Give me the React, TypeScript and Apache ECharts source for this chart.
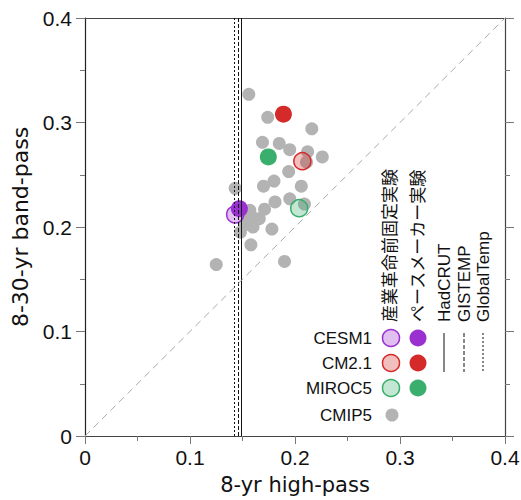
import React, { useEffect, useRef } from "react";
import * as echarts from "echarts";

// ---- data ----
const cmip5Points: [number, number][] = [
  [0.156, 0.327], [0.174, 0.305], [0.216, 0.294], [0.169, 0.281], [0.185, 0.28],
  [0.195, 0.274], [0.212, 0.272], [0.226, 0.267], [0.211, 0.262], [0.194, 0.253],
  [0.17, 0.239], [0.18, 0.244], [0.206, 0.239], [0.143, 0.237], [0.181, 0.224],
  [0.195, 0.227], [0.209, 0.222], [0.157, 0.216], [0.171, 0.217], [0.16, 0.209],
  [0.166, 0.208], [0.152, 0.202], [0.16, 0.2], [0.148, 0.195], [0.178, 0.198],
  [0.158, 0.183], [0.125, 0.164], [0.19, 0.167], [0.154, 0.213],
];
const modelNames = ["CESM1", "CM2.1", "MIROC5"];
const modelColors = ["#9b30d0", "#d42a2a", "#3aae6c"];
const modelLight = ["rgba(155,48,208,0.3)", "rgba(212,42,42,0.3)", "rgba(58,174,108,0.3)"];
const controlPoints: [number, number][] = [[0.143, 0.212], [0.207, 0.263], [0.204, 0.218]];
const pacemakerPoints: [number, number][] = [[0.147, 0.2175], [0.189, 0.308], [0.1746, 0.267]];
const obsNames = ["HadCRUT", "GISTEMP", "GlobalTemp"];
const obsValues = [0.1486, 0.1457, 0.1424];
const obsDash: any[] = ["solid", [4, 2], [2, 2]];
const axisTicks = [0, 0.1, 0.2, 0.3, 0.4];
const legendHeaders = ["産業革命前固定実験", "ペースメーカー実験"];
const cmip5Label = "CMIP5";

const FONT = "'Liberation Sans', 'Noto Sans CJK JP', sans-serif";
const TITLE_FONT = "'DejaVu Sans', sans-serif";

export default function App() {
  const ref = useRef<HTMLDivElement>(null);
  useEffect(() => {
    if (!ref.current) return;
    const chart = echarts.init(ref.current, undefined, { renderer: "svg" });
    const tickFmt = (v: number) => (v === 0 ? "0" : v.toFixed(1));
    const axisMin = axisTicks[0];
    const axisMax = axisTicks[axisTicks.length - 1];
    const axisLineStyle = { color: "#444", width: 1.2 };
    const tickStyle = { color: "#777", width: 1 };

    const graphics: any[] = [];
    const rowY = [338, 363, 388];
    modelNames.forEach((n, i) => {
      graphics.push({
        type: "text", x: 372, y: rowY[i],
        style: { text: n, font: `17px ${FONT}`, fill: "#111", align: "right", verticalAlign: "middle", textAlign: "right", textVerticalAlign: "middle" },
      });
      graphics.push({ type: "circle", shape: { cx: 391, cy: rowY[i], r: 8.5 }, style: { fill: modelLight[i], stroke: modelColors[i], lineWidth: 1.5 } });
      graphics.push({ type: "circle", shape: { cx: 418, cy: rowY[i], r: 8.5 }, style: { fill: modelColors[i] } });
    });
    graphics.push({
      type: "text", x: 372, y: 415,
      style: { text: cmip5Label, font: `17px ${FONT}`, fill: "#111", align: "right", verticalAlign: "middle", textAlign: "right", textVerticalAlign: "middle" },
    });
    graphics.push({ type: "circle", shape: { cx: 392, cy: 415, r: 6.5 }, style: { fill: "#b3b3b3" } });
    [390, 418].forEach((x, i) => {
      graphics.push({
        type: "text", x, y: 322, rotation: Math.PI / 2,
        style: { text: legendHeaders[i], font: `17px ${FONT}`, fill: "#111", align: "left", verticalAlign: "middle", textAlign: "left", textVerticalAlign: "middle" },
      });
    });
    const obsX = [444, 464, 483];
    obsNames.forEach((n, i) => {
      graphics.push({
        type: "text", x: obsX[i], y: 322, rotation: Math.PI / 2,
        style: { text: n, font: `17px ${FONT}`, fill: "#111", align: "left", verticalAlign: "middle", textAlign: "left", textVerticalAlign: "middle" },
      });
      graphics.push({
        type: "line", shape: { x1: obsX[i], y1: 333, x2: obsX[i], y2: 372 },
        style: { stroke: "#111", lineWidth: 1, lineDash: obsDash[i] === "solid" ? null : obsDash[i] },
      });
    });

    const option: any = {
      animation: false,
      textStyle: { fontFamily: FONT },
      grid: { left: 85, top: 18, width: 420, height: 418, outerBoundsMode: "none", containLabel: false },
      xAxis: [
        {
          type: "value", min: axisMin, max: axisMax, interval: 0.1, position: "bottom",
          name: "8-yr high-pass", nameLocation: "middle", nameGap: 38,
          nameTextStyle: { fontSize: 21, color: "#111", fontFamily: TITLE_FONT },
          axisLine: { show: true, lineStyle: axisLineStyle, onZero: false },
          axisTick: { show: true, length: 8, lineStyle: tickStyle },
          minorTick: { show: true, splitNumber: 2, length: 5, lineStyle: tickStyle },
          axisLabel: { fontSize: 21, color: "#111", margin: 11, formatter: tickFmt, fontFamily: FONT },
          splitLine: { show: false },
        },
        {
          type: "value", min: axisMin, max: axisMax, interval: 0.1, position: "top",
          axisLine: { show: true, lineStyle: axisLineStyle, onZero: false },
          axisTick: { show: false }, axisLabel: { show: false }, splitLine: { show: false },
        },
      ],
      yAxis: [
        {
          type: "value", min: axisMin, max: axisMax, interval: 0.1, position: "left",
          name: "8-30-yr band-pass", nameLocation: "middle", nameGap: 54,
          nameTextStyle: { fontSize: 22, color: "#111", fontFamily: TITLE_FONT },
          axisLine: { show: true, lineStyle: { color: "#222", width: 1.2 }, onZero: false },
          axisTick: { show: true, length: 9, lineStyle: tickStyle },
          minorTick: { show: true, splitNumber: 2, length: 5, lineStyle: tickStyle },
          axisLabel: { fontSize: 21, color: "#111", margin: 13, formatter: tickFmt, fontFamily: FONT },
          splitLine: { show: false },
        },
        {
          type: "value", min: axisMin, max: axisMax, interval: 0.1, position: "right",
          axisLine: { show: true, lineStyle: axisLineStyle, onZero: false },
          axisTick: { show: true, length: 9, lineStyle: tickStyle },
          minorTick: { show: true, splitNumber: 2, length: 5, lineStyle: tickStyle },
          axisLabel: { show: false }, splitLine: { show: false },
        },
      ],
      series: [
        {
          type: "scatter", data: [], z: 1, silent: true,
          markLine: {
            silent: true, symbol: "none", label: { show: false }, precision: 4,
            data: [
              ...obsValues.map((v, i) => ({
                xAxis: v, lineStyle: { color: "#111", width: 1, type: obsDash[i] },
              })),
              [
                { coord: [axisMin, axisMin], lineStyle: { color: "#aaa", width: 1, type: [7, 5] } },
                { coord: [axisMax, axisMax] },
              ],
            ],
          },
        },
        {
          name: cmip5Label, type: "scatter", data: cmip5Points, symbolSize: 13, z: 2,
          itemStyle: { color: "#b3b3b3", opacity: 1 },
        },
        ...modelNames.map((n, i) => ({
          name: n + " control", type: "scatter", data: [controlPoints[i]], symbolSize: 17, z: 3,
          itemStyle: { color: modelLight[i], borderColor: modelColors[i], borderWidth: 1.5, opacity: 1 },
        })),
        ...modelNames.map((n, i) => ({
          name: n + " pacemaker", type: "scatter", data: [pacemakerPoints[i]], symbolSize: 17, z: 4,
          itemStyle: { color: modelColors[i], opacity: 1 },
        })),
      ],
      graphic: graphics,
    };
    chart.setOption(option);
    return () => chart.dispose();
  }, []);
  return <div ref={ref} style={{ position: "fixed", left: 0, top: 0, width: 521, height: 500, background: "#fff" }} />;
}
